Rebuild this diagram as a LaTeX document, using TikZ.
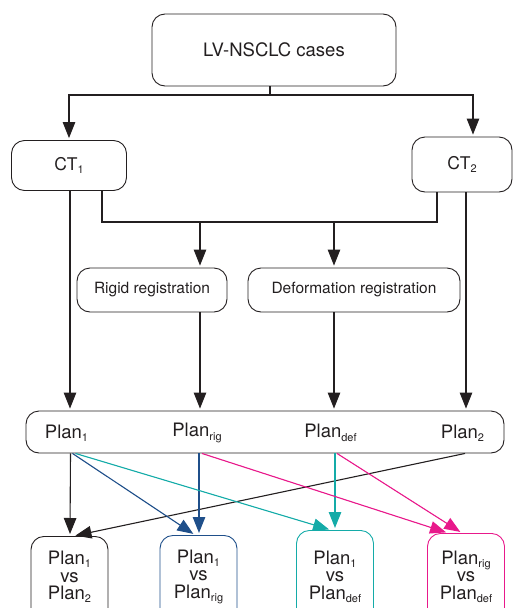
\documentclass[tikz,border=0pt]{standalone}
\usepackage{fontspec}
\setmainfont{TeX Gyre Heros}
\usetikzlibrary{arrows.meta,calc}

\definecolor{planblue}{HTML}{1F4F8A}
\definecolor{planteal}{HTML}{14ABA8}
\definecolor{planpink}{HTML}{E8198B}
\definecolor{ink}{HTML}{231F20}

\newcommand{\lowsub}[1]{\raisebox{-0.35ex}{\fontsize{11}{11}\selectfont #1}}

\tikzset{
  box/.style={draw=ink, line width=0.9pt, rounded corners=13pt, text=ink},
  arr/.style={draw=ink, line width=1.1pt, shorten >=2pt, -{Triangle[length=16pt,width=12.5pt]}},
  cmp/.style={box, minimum width=77pt, minimum height=95pt, anchor=north},
  cmptxt/.style={align=center, text=ink, font=\fontsize{18.5}{17.5}\selectfont},
  big/.style={font=\fontsize{18.5}{18}\selectfont},
}

\begin{document}
\begin{tikzpicture}[x=1pt,y=-1pt]
\clip (0,0) rectangle (513,608);

% boxes
\node[box, big, minimum width=244pt, minimum height=72pt] (cases) at (274,50) {LV-NSCLC cases};
\node[box, font=\fontsize{17.5}{17}\selectfont, minimum width=115pt, minimum height=50pt] (ct1) at (69,165.5) {CT\lowsub{1}};
\node[box, font=\fontsize{17.5}{17}\selectfont, minimum width=100pt, minimum height=55pt] (ct2) at (462,164.5) {CT\lowsub{2}};
\node[box, font=\fontsize{15.5}{15.5}\selectfont, minimum width=150pt, minimum height=44pt] (rigid) at (152,290) {Rigid registration};
\node[box, font=\fontsize{15.5}{15.5}\selectfont, minimum width=212pt, minimum height=44pt] (deform) at (354,290) {Deformation registration};

\node[box, minimum width=478pt, minimum height=42pt] (plans) at (265,432) {};
\node[big, text=ink] (p1) at (66.5,433) {Plan\lowsub{1}};
\node[big, text=ink] (prig) at (197,433) {Plan\lowsub{rig}};
\node[big, text=ink] (pdef) at (330.5,433) {Plan\lowsub{def}};
\node[big, text=ink] (p2) at (462.5,433) {Plan\lowsub{2}};

\node[cmp] (b1) at (69.5,536) {};
\node[cmp, draw=planblue] (b2) at (198.5,535) {};
\node[cmp, draw=planteal] (b3) at (335,530) {};
\node[cmp, draw=planpink] (b4) at (466,533) {};
\node[cmptxt] (t1) at ($(b1.north)+(0,41)$) {Plan\lowsub{1}\\vs\\Plan\lowsub{2}};
\node[cmptxt] (t2) at ($(b2.north)+(0,42)$) {Plan\lowsub{1}\\vs\\Plan\lowsub{rig}};
\node[cmptxt] (t3) at ($(b3.north)+(0,47)$) {Plan\lowsub{1}\\vs\\Plan\lowsub{def}};
\node[cmptxt] (t4) at ($(b4.north)+(0,44)$) {Plan\lowsub{rig}\\vs\\Plan\lowsub{def}};

% cases to CT1 / CT2
\coordinate (split) at (270,95);
\draw[draw=ink, line width=1.1pt] (cases.south -| split) -- (split);
\draw[arr] (split) -| (ct1.north);
\draw[arr] (split) -| ($(ct2.north)+(11,0)$);

% CT1 + CT2 into registrations
\coordinate (join) at (270,222);
\coordinate (rigin) at (200,222);
\coordinate (defin) at (334,222);
\draw[draw=ink, line width=1.1pt] ($(ct1.south)+(33,0)$) |- (join) -| ($(ct2.south)+(-25,0)$);
\draw[arr] (rigin) -- (rigin |- rigid.north);
\draw[arr] (defin) -- (defin |- deform.north);
\draw[arr] (rigin |- rigid.south) -- (rigin |- plans.north);
\draw[arr] (defin |- deform.south) -- (defin |- plans.north);

\coordinate (ct1out) at ($(ct1.south)+(1,0)$);
\coordinate (ct2out) at ($(ct2.south)+(4,0)$);
\draw[arr] (ct1out) -- (ct1out |- plans.north);
\draw[arr] (ct2out) -- (ct2out |- plans.north);

% plans to comparisons
\draw[arr] ($(p1 |- plans.south)+(4,0)$) -- ($(b1.north)+(0.5,0)$);
\draw[arr] ($(p2 |- plans.south)+(2.5,0)$) -- ($(b1.north)+(4,0)$);
\draw[arr, draw=planblue, fill=planblue] ($(p1 |- plans.south)+(6,0)$) -- ($(b2.north)+(-3.5,0)$);
\draw[arr, draw=planblue, fill=planblue] ($(prig |- plans.south)+(2,0)$) -- ($(b2.north)+(0.5,0)$);
\draw[arr, draw=planteal, fill=planteal] ($(p1 |- plans.south)+(9,0)$) -- ($(b3.north)+(-4,0)$);
\draw[arr, draw=planteal, fill=planteal] ($(pdef |- plans.south)+(4.5,0)$) -- ($(b3.north)+(0,0)$);
\draw[arr, draw=planpink, fill=planpink] ($(prig |- plans.south)+(5,0)$) -- ($(b4.north)+(-18,0)$);
\draw[arr, draw=planpink, fill=planpink] ($(pdef |- plans.south)+(6.5,0)$) -- ($(b4.north)+(-4,0)$);
\end{tikzpicture}
\end{document}
